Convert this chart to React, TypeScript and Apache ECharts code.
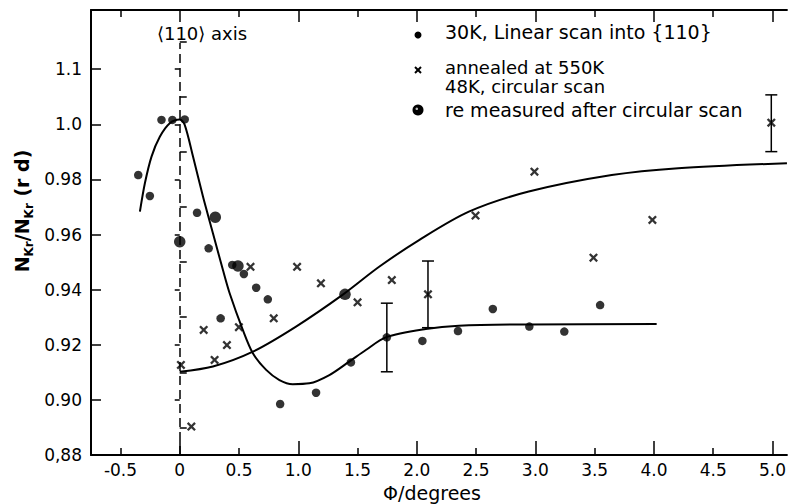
import React, { useEffect, useRef } from "react";
import * as echarts from "echarts";

// ---- data ----
const linearScan30K: number[][] = [
  [-0.350, 0.9816], [-0.252, 0.9740], [-0.154, 1.0016], [-0.062, 1.0016], [0.042, 1.0018],
  [0.146, 0.9679], [0.244, 0.9550], [0.345, 0.9296], [0.443, 0.9490], [0.541, 0.9457],
  [0.645, 0.9407], [0.743, 0.9365], [0.847, 0.8985], [1.150, 0.9026], [1.444, 0.9136],
  [1.747, 0.9227], [2.047, 0.9214], [2.347, 0.9250], [2.641, 0.9330], [2.949, 0.9266],
  [3.244, 0.9248], [3.546, 0.9344],
];
const remeasured: number[][] = [
  [0.0, 0.9574], [0.300, 0.9663], [0.491, 0.9486], [1.394, 0.9383],
];
const circularScan48K: number[][] = [
  [0.01, 0.9127], [0.098, 0.8903], [0.202, 0.9254], [0.294, 0.9145], [0.398, 0.9199],
  [0.499, 0.9264], [0.597, 0.9483], [0.793, 0.9296], [0.990, 0.9483], [1.191, 0.9423],
  [1.500, 0.9354], [1.789, 0.9435], [2.094, 0.9383], [2.495, 0.9669], [2.992, 0.9828],
  [3.490, 0.9516], [3.987, 0.9653], [4.990, 1.0006],
];
const errorBars: number[][] = [
  [1.747, 0.9102, 0.9351], [2.094, 0.9262, 0.9504], [4.990, 0.9901, 1.0107],
];
const curveLinear: number[][] = [
  [-0.336, 0.9683], [-0.294, 0.9786], [-0.238, 0.9883], [-0.168, 0.9955], [-0.084, 1.0004],
  [0.0, 1.0018], [0.042, 0.9998], [0.112, 0.9883], [0.196, 0.9738], [0.280, 0.9605],
  [0.364, 0.9472], [0.421, 0.9387], [0.532, 0.9254], [0.617, 0.9169], [0.729, 0.9109],
  [0.841, 0.9072], [0.953, 0.9057], [1.093, 0.9060], [1.262, 0.9090], [1.430, 0.9139],
  [1.570, 0.9181], [1.738, 0.9227], [2.075, 0.9257], [2.355, 0.9269], [2.944, 0.9274],
  [4.023, 0.9275],
];
const curveCircular: number[][] = [
  [0.0, 0.9102], [0.280, 0.9121], [0.617, 0.9175], [0.981, 0.9266], [1.373, 0.9381],
  [1.682, 0.9483], [2.019, 0.9580], [2.439, 0.9683], [2.944, 0.9756], [3.644, 0.9816],
  [4.205, 0.9841], [5.122, 0.9859],
];
const xLabelValues = [-0.5, 0, 0.5, 1, 1.5, 2, 2.5, 3, 3.5, 4, 4.5, 5];
const xLabelTexts = ["-0.5", "0", "0.5", "1.0", "1.5", "2.0", "2.5", "3.0", "3.5", "4.0", "4.5", "5.0"];
const xIntTicks = [0, 1, 2, 3, 4, 5];
const xHalfTicks = [-0.5, 0.5, 1.5, 2.5, 3.5, 4.5];
const yLabelValues = [0.88, 0.9, 0.92, 0.94, 0.96, 0.98, 1.0, 1.02];
const yLabelTexts = ["0,88", "0.90", "0.92", "0.94", "0.96", "0.98", "1.0", "1.1"];
const yMinorTicks = [0.89, 0.91, 0.93, 0.95, 0.97, 0.99, 1.01, 1.03];
const legendLine1 = "30K, Linear scan into {110}";
const legendLine2 = "annealed at 550K\n48K, circular scan";
const legendLine3 = "re measured after circular scan";

const X_MIN = -0.7485;
const X_MAX = 5.122;
const Y_MIN = 0.88;
const Y_MAX = 1.0415;
const FONT = "DejaVu Sans";
const CROSS =
  "path://M0,1.8L1.8,0L5,3.2L8.2,0L10,1.8L6.8,5L10,8.2L8.2,10L5,6.8L1.8,10L0,8.2L3.2,5Z";

function nearestText(v: number, vals: number[], texts: string[]) {
  let best = 0;
  for (let i = 1; i < vals.length; i++) {
    if (Math.abs(vals[i] - v) < Math.abs(vals[best] - v)) best = i;
  }
  return texts[best];
}

export default function App() {
  const ref = useRef<HTMLDivElement>(null);
  useEffect(() => {
    if (!ref.current) return;
    const chart = echarts.init(ref.current, undefined, { renderer: "svg" });
    const black = "#000";
    const tickAxis = (position: string, len: number, vals: number[], line: boolean) => ({
      type: "value",
      min: X_MIN,
      max: X_MAX,
      position,
      axisLine: { show: line, onZero: false, lineStyle: { color: black, width: 2 } },
      axisTick: { show: true, inside: true, length: len, customValues: vals, lineStyle: { color: black, width: 1.5 } },
      axisLabel: { show: false },
      splitLine: { show: false },
    });
    chart.setOption({
      animation: false,
      backgroundColor: "#fff",
      grid: { left: 91, right: 0, top: 10, bottom: 49, containLabel: false },
      xAxis: [
        {
          type: "value",
          min: X_MIN,
          max: X_MAX,
          position: "bottom",
          axisLine: { show: true, onZero: false, lineStyle: { color: black, width: 2 } },
          axisTick: { show: true, inside: true, length: 7, customValues: xHalfTicks, lineStyle: { color: black, width: 1.5 } },
          axisLabel: {
            customValues: xLabelValues,
            formatter: (v: number) => nearestText(v, xLabelValues, xLabelTexts),
            color: black,
            fontSize: 17,
            fontFamily: FONT,
            margin: 6,
          },
          splitLine: { show: false },
        },
        tickAxis("bottom", 14, xIntTicks, false),
        tickAxis("top", 7, xHalfTicks, true),
        tickAxis("top", 12, xIntTicks, false),
      ],
      yAxis: [
        {
          type: "value",
          min: Y_MIN,
          max: Y_MAX,
          position: "left",
          axisLine: { show: true, onZero: false, lineStyle: { color: black, width: 2 } },
          axisTick: { show: true, inside: true, length: 10, customValues: yLabelValues, lineStyle: { color: black, width: 1.5 } },
          axisLabel: {
            customValues: yLabelValues,
            formatter: (v: number) => nearestText(v, yLabelValues, yLabelTexts),
            color: black,
            fontSize: 17,
            fontFamily: FONT,
            margin: 9,
          },
          splitLine: { show: false },
        },
        {
          type: "value",
          min: Y_MIN,
          max: Y_MAX,
          position: "left",
          axisLine: { show: false },
          axisTick: { show: true, inside: true, length: 7, customValues: yMinorTicks, lineStyle: { color: black, width: 1.5 } },
          axisLabel: { show: false },
          splitLine: { show: false },
        },
        {
          type: "value",
          min: Y_MIN,
          max: Y_MAX,
          position: "right",
          axisLine: { show: false },
          axisTick: { show: true, inside: true, length: 5, customValues: yLabelValues, lineStyle: { color: black, width: 1.5 } },
          axisLabel: { show: false },
          splitLine: { show: false },
        },
      ],
      series: [
        {
          type: "line",
          data: curveLinear,
          smooth: 0.3,
          showSymbol: false,
          lineStyle: { color: black, width: 2 },
          silent: true,
          markLine: {
            silent: true,
            symbol: ["none", "none"],
            label: { show: false },
            lineStyle: { color: black, width: 1.5, type: [9, 5] },
            data: [[{ coord: [0, Y_MIN] }, { coord: [0, 1.0295] }]],
          },
        },
        {
          type: "line",
          data: curveCircular,
          smooth: 0.3,
          showSymbol: false,
          lineStyle: { color: black, width: 2 },
          silent: true,
        },
        {
          type: "custom",
          data: errorBars,
          encode: { x: 0, y: [1, 2] },
          renderItem: (_params: any, api: any) => {
            const x = api.value(0);
            const lo = api.coord([x, api.value(1)]);
            const hi = api.coord([x, api.value(2)]);
            const w = 6;
            const st = { stroke: black, lineWidth: 1.5 };
            return {
              type: "group",
              children: [
                { type: "line", shape: { x1: lo[0], y1: lo[1], x2: hi[0], y2: hi[1] }, style: st },
                { type: "line", shape: { x1: lo[0] - w, y1: lo[1], x2: lo[0] + w, y2: lo[1] }, style: st },
                { type: "line", shape: { x1: hi[0] - w, y1: hi[1], x2: hi[0] + w, y2: hi[1] }, style: st },
              ],
            };
          },
        },
        {
          type: "scatter",
          data: linearScan30K,
          symbol: "circle",
          symbolSize: 8.5,
          itemStyle: { color: black },
        },
        {
          type: "scatter",
          data: remeasured,
          symbol: "circle",
          symbolSize: 11.5,
          itemStyle: { color: black },
        },
        {
          type: "scatter",
          data: circularScan48K,
          symbol: CROSS,
          symbolSize: 9,
          itemStyle: { color: black },
        },
      ],
      graphic: [
        {
          type: "text",
          x: 202,
          y: 33,
          style: { text: "⟨110⟩ axis", font: `18px "${FONT}"`, fill: black, align: "center", verticalAlign: "middle", backgroundColor: "#fff" },
        },
        { type: "circle", shape: { cx: 418, cy: 35, r: 3.5 }, style: { fill: black } },
        { type: "line", shape: { x1: 415, y1: 67, x2: 421, y2: 73 }, style: { stroke: black, lineWidth: 2 } },
        { type: "line", shape: { x1: 421, y1: 67, x2: 415, y2: 73 }, style: { stroke: black, lineWidth: 2 } },
        { type: "circle", shape: { cx: 418, cy: 110, r: 5.5 }, style: { fill: black } },
        { type: "circle", shape: { cx: 416.8, cy: 108.8, r: 1.3 }, style: { fill: "#bbb" } },
        {
          type: "text",
          x: 445,
          y: 32,
          style: { text: legendLine1, font: `19px "${FONT}"`, fill: black, align: "left", verticalAlign: "middle" },
        },
        {
          type: "text",
          x: 445,
          y: 77,
          style: { text: legendLine2, font: `18px "${FONT}"`, lineHeight: 19, fill: black, align: "left", verticalAlign: "middle" },
        },
        {
          type: "text",
          x: 445,
          y: 110,
          style: { text: legendLine3, font: `19px "${FONT}"`, fill: black, align: "left", verticalAlign: "middle" },
        },
        {
          type: "text",
          x: 432,
          y: 493,
          style: { text: "Φ/degrees", font: `19px "${FONT}"`, fill: black, align: "center", verticalAlign: "middle" },
        },
        {
          type: "text",
          x: 22,
          y: 211,
          rotation: Math.PI / 2,
          style: {
            text: "{n|N}{s|Kr}{n|/N}{s|Kr}{n| (r d)}",
            align: "center",
            verticalAlign: "middle",
            fill: black,
            rich: {
              n: { fontSize: 19, fontFamily: FONT, fontWeight: "bold", lineHeight: 26, verticalAlign: "middle" },
              s: { fontSize: 12, fontFamily: FONT, fontWeight: "bold", lineHeight: 12, verticalAlign: "bottom" },
            },
          },
        },
      ],
    });
    return () => chart.dispose();
  }, []);
  return (
    <div
      ref={ref}
      style={{ position: "fixed", left: 0, top: 0, width: 789, height: 504, background: "#fff" }}
    />
  );
}
